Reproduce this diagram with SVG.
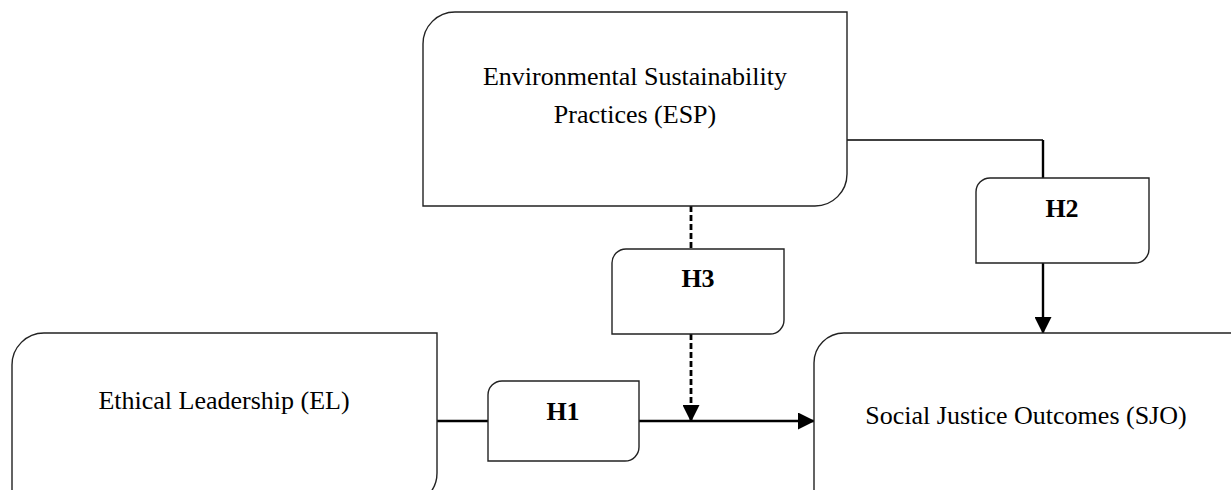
<svg xmlns="http://www.w3.org/2000/svg" width="1231" height="490" viewBox="0 0 1231 490">
<style>
.box{fill:#fff;stroke:#222;stroke-width:1.4}
.t{font-family:"Liberation Serif","Times New Roman",serif;font-size:26px;fill:#000;text-anchor:middle}
.h{font-family:"Liberation Serif","Times New Roman",serif;font-size:26px;font-weight:bold;fill:#000;text-anchor:middle}
.c{fill:none;stroke:#000;stroke-width:2.4}
.d{fill:none;stroke:#000;stroke-width:2.8;stroke-dasharray:6 3}
</style>
<defs>
<marker id="arr" markerUnits="userSpaceOnUse" markerWidth="17" markerHeight="17" viewBox="0 0 17 17" refX="16" refY="8.5" orient="auto">
<path d="M0,0 L17,8.5 L0,17 Z" fill="#000"/>
</marker>
</defs>
<rect width="1231" height="490" fill="#fff"/>
<g id="connectors">
<path class="c" d="M847,140 H1043" style="stroke-width:1.4"/>
<path class="c" d="M1043,140 V178"/>
<path class="c" d="M1043,263 V333" marker-end="url(#arr)"/>
<path class="c" d="M437,421 H488"/>
<path class="c" d="M639,421 H814" marker-end="url(#arr)"/>
<path class="d" d="M691,206 V249"/>
<path class="d" d="M691,334 V421" marker-end="url(#arr)"/>
</g>
<g id="esp">
<path class="box" d="M455,12 H847 V174 A32,32 0 0 1 815,206 H423 V44 A32,32 0 0 1 455,12 Z"/>
<text class="t" x="635" y="85">Environmental Sustainability</text>
<text class="t" x="635" y="123">Practices (ESP)</text>
</g>
<g id="el">
<path class="box" d="M44,333 H437 V473 A32,32 0 0 1 405,505 H12 V365 A32,32 0 0 1 44,333 Z"/>
<text class="t" x="224" y="409">Ethical Leadership (EL)</text>
</g>
<g id="sjo">
<path class="box" d="M844,333 H1260 V520 H814 V363 A30,30 0 0 1 844,333 Z"/>
<text class="t" x="1026" y="424">Social Justice Outcomes (SJO)</text>
</g>
<g id="h1">
<path class="box" d="M502,381 H639 V447 A14,14 0 0 1 625,461 H488 V395 A14,14 0 0 1 502,381 Z"/>
<text class="h" x="563" y="420">H1</text>
</g>
<g id="h2">
<path class="box" d="M990,178 H1149 V249 A14,14 0 0 1 1135,263 H976 V192 A14,14 0 0 1 990,178 Z"/>
<text class="h" x="1062" y="217">H2</text>
</g>
<g id="h3">
<path class="box" d="M626,249 H784 V320 A14,14 0 0 1 770,334 H612 V263 A14,14 0 0 1 626,249 Z"/>
<text class="h" x="698" y="287">H3</text>
</g>
</svg>
